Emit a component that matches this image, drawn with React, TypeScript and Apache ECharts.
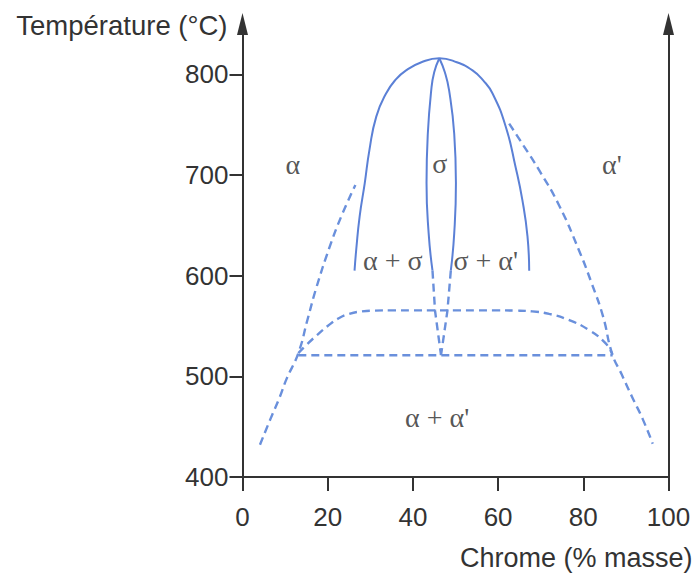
import React, { useEffect, useRef } from 'react';
import * as echarts from 'echarts';

const xTickValues = [0, 20, 40, 60, 80, 100];
const yTickValues = [400, 500, 600, 700, 800];

// solid boundaries of the sigma domain
const sigmaDome = [[26.3, 605], [26.7, 626], [27.5, 659], [28.7, 692], [29.8, 725], [31.4, 758], [33.7, 781], [36.0, 795], [38.4, 804], [42.0, 812], [46.2, 816], [50.3, 812], [54.0, 804], [56.5, 794], [58.7, 781], [61.8, 748], [64.1, 708], [65.7, 675], [66.9, 639], [67.3, 605]];
const sigmaInnerLeft = [[46.2, 816], [45.0, 802], [44.3, 784], [43.5, 741], [43.2, 692], [43.7, 642], [44.6, 605]];
const sigmaInnerRight = [[46.2, 816], [47.5, 802], [48.5, 784], [49.7, 741], [50.1, 692], [49.7, 642], [48.9, 605]];

// dashed boundaries
const sigmaLowerLeft = [[44.6, 605], [45.2, 565], [46.6, 521]];
const sigmaLowerRight = [[48.9, 605], [48.1, 565], [46.6, 521]];
const eutectoid = [[13.1, 521], [86.9, 521]];
const lowerDome = [[13.1, 523], [15.2, 532], [17.5, 541], [20.0, 550], [22.5, 557.5], [25.0, 562], [28.0, 564.5], [31.0, 565.3], [35.0, 565.5], [40.0, 565.5], [45.0, 565.5], [50.0, 565.5], [55.0, 565.5], [60.0, 565.5], [64.0, 565.3], [68.0, 564.5], [72.0, 562], [76.6, 556], [81.3, 546], [85.2, 533], [86.8, 522]];
const outerLeft = [[4.1, 432], [6.5, 457], [8.8, 480], [10.3, 497], [13.1, 523], [15.3, 557], [17.4, 589], [20.5, 629], [23.3, 660], [26.5, 690]];
const outerRight = [[62.6, 751], [66.0, 729], [69.6, 705], [74.3, 670], [79.0, 625], [82.0, 592], [84.6, 560], [86.8, 522], [89.0, 502], [91.4, 480], [94.0, 457], [96.3, 433]];

// region labels
const regionNames = ['α', 'σ', "α'", 'α + σ', "σ + α'", "α + α'"];
const regionX = [11.8, 46.3, 86.7, 35.3, 57.1, 45.7];
const regionY = [710, 711, 710, 615, 615, 459];

const SOLID = '#5b80d6';
const DASHED = '#6a90dc';
const AXIS = '#333333';
const FONT = '"Liberation Sans", Arial, sans-serif';

export default function App() {
  const ref = useRef<HTMLDivElement>(null);
  useEffect(() => {
    if (!ref.current) return;
    const chart = echarts.init(ref.current, undefined, { renderer: 'svg' });
    const solid = (data: number[][], smooth: number | boolean) => ({
      type: 'line', data, smooth, symbol: 'none', silent: true,
      lineStyle: { color: SOLID, width: 2 },
    });
    const dashed = (data: number[][], smooth: number | boolean) => ({
      type: 'line', data, smooth, symbol: 'none', silent: true,
      lineStyle: { color: DASHED, width: 2.4, type: [8, 5] },
    });
    chart.setOption({
      animation: false,
      grid: { left: 242.5, right: 28.5, top: 24, bottom: 97 },
      xAxis: {
        type: 'value', min: 0, max: 100, interval: 20,
        name: 'Chrome (% masse)', nameLocation: 'end', nameGap: 24,
        nameTextStyle: { fontFamily: FONT, fontSize: 27, color: AXIS, align: 'right', verticalAlign: 'top', padding: [67, 0, 0, 0] },
        axisLine: { show: true, lineStyle: { color: AXIS, width: 2 } },
        axisTick: { show: true, length: 14, lineStyle: { color: AXIS, width: 2 } },
        axisLabel: { fontFamily: FONT, fontSize: 26, color: AXIS, margin: 27, customValues: xTickValues },
        splitLine: { show: false },
      },
      yAxis: [
        {
          type: 'value', min: 400, max: 850, interval: 100, position: 'left',
          name: 'Température (°C)', nameLocation: 'end', nameGap: -1,
          nameTextStyle: { fontFamily: FONT, fontSize: 27.5, color: AXIS, align: 'right', verticalAlign: 'middle', padding: [0, 15, 0, 0] },
          axisLine: { show: true, symbol: ['none', 'triangle'], symbolSize: [11, 22], lineStyle: { color: AXIS, width: 2 } },
          axisTick: { show: true, length: 13, lineStyle: { color: AXIS, width: 2 }, customValues: yTickValues },
          axisLabel: { fontFamily: FONT, fontSize: 26, color: AXIS, margin: 14, customValues: yTickValues },
          splitLine: { show: false },
        },
        {
          type: 'value', min: 400, max: 850, interval: 100, position: 'right',
          axisLine: { show: true, symbol: ['none', 'triangle'], symbolSize: [11, 22], lineStyle: { color: AXIS, width: 2 } },
          axisTick: { show: false },
          axisLabel: { show: false },
          splitLine: { show: false },
        },
      ],
      series: [
        solid(sigmaDome, 0.5),
        solid(sigmaInnerLeft, 0.5),
        solid(sigmaInnerRight, 0.5),
        dashed(sigmaLowerLeft, false),
        dashed(sigmaLowerRight, false),
        dashed(eutectoid, false),
        dashed(lowerDome, 0.5),
        dashed(outerLeft, 0.5),
        dashed(outerRight, 0.5),
        {
          type: 'scatter', silent: true, symbolSize: 1,
          itemStyle: { color: 'rgba(0,0,0,0)' },
          data: regionNames.map((n, i) => [regionX[i], regionY[i], n]),
          label: {
            show: true, position: 'inside',
            formatter: (p: any) => p.value[2],
            fontFamily: '"Liberation Serif", "Times New Roman", serif',
            fontSize: 28, color: '#2a2a2a',
          },
        },
      ],
    });
    return () => chart.dispose();
  }, []);
  return <div ref={ref} style={{ position: 'fixed', left: 0, top: 0, width: 697, height: 574, background: '#fff' }} />;
}
